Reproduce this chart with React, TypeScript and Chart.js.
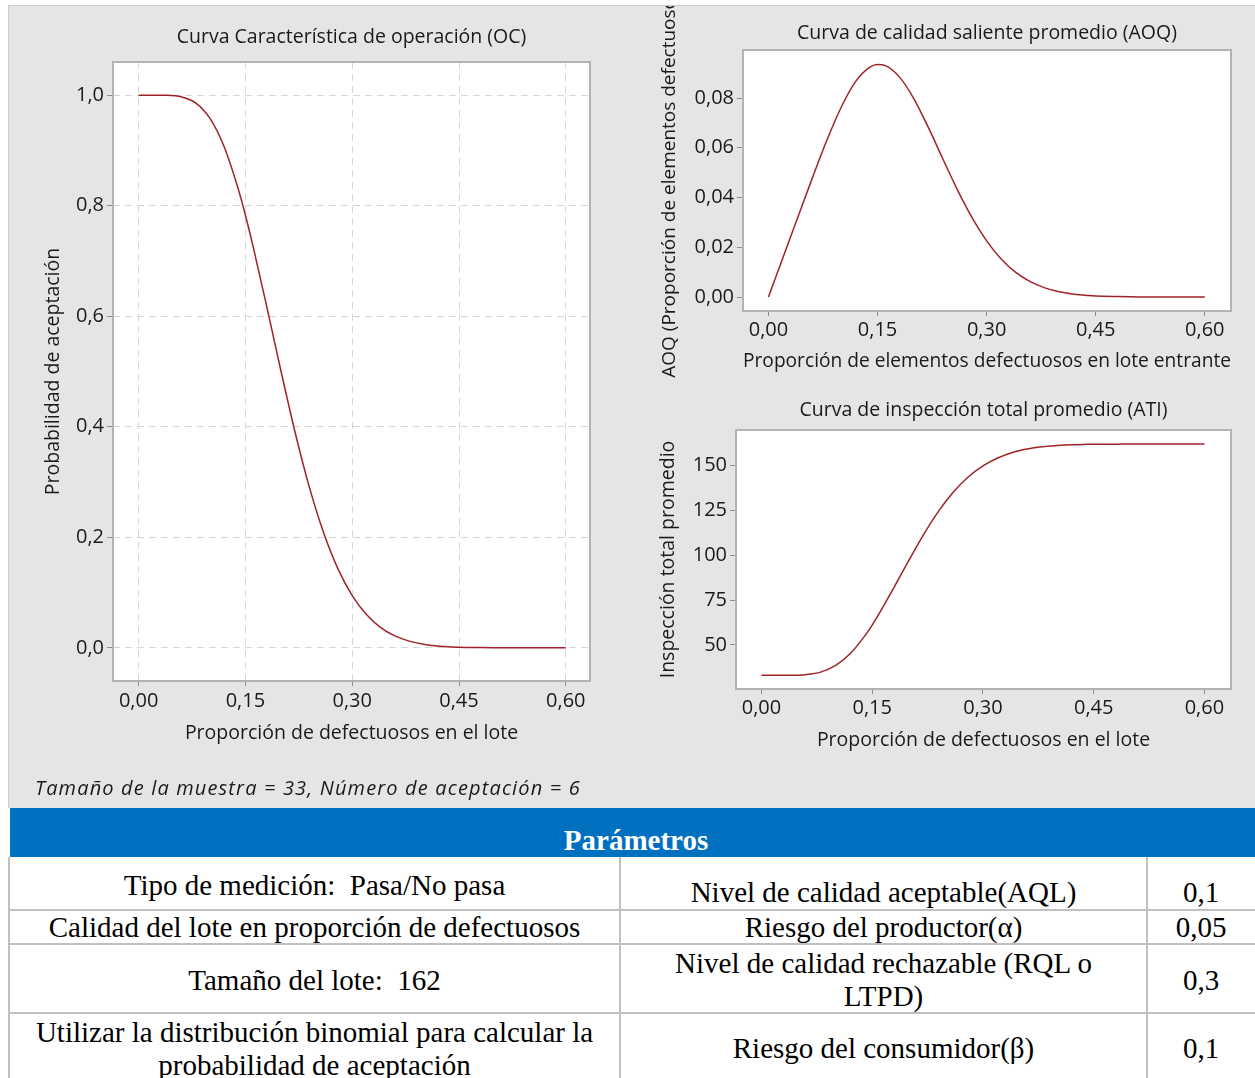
import React, { useEffect, useRef } from "react";
import { Chart, registerables } from "chart.js";

Chart.register(...registerables);

// ---------------- data ----------------
const proportions = [0, 0.02, 0.04, 0.06, 0.08, 0.1, 0.12, 0.14, 0.15, 0.16, 0.18, 0.2, 0.22, 0.24, 0.26, 0.28, 0.3, 0.32, 0.34, 0.36, 0.38, 0.4, 0.42, 0.44, 0.46, 0.48, 0.5, 0.52, 0.54, 0.56, 0.58, 0.6];
const probAccept = [1.0, 1.0, 0.9998, 0.997, 0.9861, 0.9583, 0.907, 0.8297, 0.7828, 0.7304, 0.6172, 0.5005, 0.3888, 0.2899, 0.2078, 0.1429, 0.0945, 0.0601, 0.0367, 0.0216, 0.0122, 0.0066, 0.0034, 0.0017, 0.0008, 0.0004, 0.0002, 0.0001, 0, 0, 0, 0];
const aoqValues = [0, 0.0159, 0.0318, 0.0476, 0.0628, 0.0763, 0.0867, 0.0925, 0.0935, 0.0931, 0.0885, 0.0797, 0.0681, 0.0554, 0.043, 0.0319, 0.0226, 0.0153, 0.0099, 0.0062, 0.0037, 0.0021, 0.0011, 0.0006, 0.0003, 0.0002, 0.0001, 0, 0, 0, 0, 0];
const atiValues = [33.0, 33.0, 33.0, 33.4, 34.8, 38.4, 45.0, 55.0, 61.0, 67.8, 82.4, 97.4, 111.8, 124.6, 135.2, 143.6, 149.8, 154.2, 157.3, 159.2, 160.4, 161.1, 161.6, 161.8, 161.9, 161.9, 162.0, 162.0, 162.0, 162.0, 162.0, 162.0];

const xTickValues = [0, 0.15, 0.3, 0.45, 0.6];
const ocTickValues = [0, 0.2, 0.4, 0.6, 0.8, 1.0];
const aoqTickValues = [0, 0.02, 0.04, 0.06, 0.08];
const atiTickValues = [50, 75, 100, 125, 150];

const ocTitle = "Curva Característica de operación (OC)";
const ocYTitle = "Probabilidad de aceptación";
const ocXTitle = "Proporción de defectuosos en el lote";
const aoqTitle = "Curva de calidad saliente promedio (AOQ)";
const aoqYTitle = "AOQ (Proporción de elementos defectuosos)";
const aoqXTitle = "Proporción de elementos defectuosos en lote entrante";
const atiTitle = "Curva de inspección total promedio (ATI)";
const atiYTitle = "Inspección total promedio";
const atiXTitle = "Proporción de defectuosos en el lote";

const footnote = "Tamaño de la muestra = 33, Número de aceptación = 6";
const tableHeader = "Parámetros";
const paramLeft = [
  ["Tipo de medición:  Pasa/No pasa"],
  ["Calidad del lote en proporción de defectuosos"],
  ["Tamaño del lote:  162"],
  ["Utilizar la distribución binomial para calcular la", "probabilidad de aceptación"],
];
const paramMid = [
  ["Nivel de calidad aceptable(AQL)"],
  ["Riesgo del productor(α)"],
  ["Nivel de calidad rechazable (RQL o", "LTPD)"],
  ["Riesgo del consumidor(β)"],
];
const paramRight = ["0,1", "0,05", "0,3", "0,1"];

// ---------------- styling / layout ----------------
const FONT = "'Open Sans', sans-serif";
const TEXT = "#1a1a1a";
const LINE = "#a0222a";

const plotFrame = {
  id: "plotFrame",
  beforeDraw(chart: any) {
    const { ctx, chartArea: a } = chart;
    ctx.save();
    ctx.fillStyle = "#ffffff";
    ctx.fillRect(a.left, a.top, a.right - a.left, a.bottom - a.top);
    ctx.restore();
  },
  afterDraw(chart: any) {
    const { ctx, chartArea: a } = chart;
    ctx.save();
    ctx.strokeStyle = "#b3b3b3";
    ctx.lineWidth = 2;
    ctx.strokeRect(a.left, a.top, a.right - a.left, a.bottom - a.top);
    ctx.restore();
  },
};

type Spec = {
  left: number; top: number; w: number; h: number;
  pad: { top: number; left: number; right: number; bottom: number };
  title: string; titlePad: { top: number; bottom: number };
  yTitle: string; yTitlePad: number; yTitleSize: number; yWidth: number; yTickPad: number;
  xTitle: string; xTitlePad: number; xHeight: number; xTickPad: number;
  xMin: number; xMax: number; yMin: number; yMax: number;
  values: number[]; yTicks: number[]; yFmt: (v: number) => string; grid: boolean;
};

const fmtX = (v: number) => v.toFixed(2).replace(".", ",");

const OC_SPEC: Spec = {
  left: -1, top: 1, w: 612, h: 770,
  pad: { top: 0, left: 0, right: 30, bottom: 26 },
  title: ocTitle, titlePad: { top: 18.6, bottom: 13.0 },
  yTitle: ocYTitle, yTitlePad: 33.6, yTitleSize: 19.5, yWidth: 105, yTickPad: 3,
  xTitle: ocXTitle, xTitlePad: 5.4, xHeight: 70, xTickPad: 3,
  xMin: -0.036, xMax: 0.634, yMin: -0.06, yMax: 1.06,
  values: probAccept, yTicks: ocTickValues, yFmt: (v) => v.toFixed(1).replace(".", ","), grid: true,
};

const AOQ_SPEC: Spec = {
  left: 621, top: -46, w: 625, h: 420,
  pad: { top: 0, left: 0, right: 24, bottom: 7 },
  title: aoqTitle, titlePad: { top: 61.9, bottom: 4.7 },
  yTitle: aoqYTitle, yTitlePad: 27.8, yTitleSize: 19, yWidth: 113, yTickPad: 3,
  xTitle: aoqXTitle, xTitlePad: 0, xHeight: 62, xTickPad: 2,
  xMin: -0.035, xMax: 0.636, yMin: -0.0056, yMax: 0.0993,
  values: aoqValues, yTicks: aoqTickValues, yFmt: (v) => v.toFixed(2).replace(".", ","), grid: false,
};

const ATI_SPEC: Spec = {
  left: 621, top: 379, w: 625, h: 380,
  pad: { top: 0, left: 0, right: 24, bottom: 13 },
  title: atiTitle, titlePad: { top: 13.6, bottom: 8.0 },
  yTitle: atiYTitle, yTitlePad: 26.7, yTitleSize: 19.5, yWidth: 106, yTickPad: 3,
  xTitle: atiXTitle, xTitlePad: 0, xHeight: 63, xTickPad: 2,
  xMin: -0.0345, xMax: 0.636, yMin: 25.4, yMax: 169.8,
  values: atiValues, yTicks: atiTickValues, yFmt: (v) => String(Math.round(v)), grid: false,
};

function buildConfig(s: Spec): any {
  const font = { family: FONT, size: 19.5, weight: "normal" as const };
  const yTitleFont = { family: FONT, size: s.yTitleSize, weight: "normal" as const };
  const tickFont = { family: FONT, size: 20, weight: "normal" as const };
  return {
    type: "line",
    data: {
      datasets: [
        {
          data: proportions.map((x, i) => ({ x, y: s.values[i] })),
          borderColor: LINE,
          borderWidth: 1.5,
          pointRadius: 0,
          fill: false,
          cubicInterpolationMode: "monotone",
        },
      ],
    },
    options: {
      responsive: false,
      animation: false,
      devicePixelRatio: 1,
      layout: { padding: s.pad },
      plugins: {
        legend: { display: false },
        tooltip: { enabled: false },
        title: {
          display: true,
          text: s.title,
          fullSize: false,
          color: TEXT,
          font,
          padding: s.titlePad,
        },
      },
      scales: {
        x: {
          type: "linear",
          min: s.xMin,
          max: s.xMax,
          afterBuildTicks: (sc: any) => {
            sc.ticks = xTickValues.map((v) => ({ value: v }));
          },
          afterFit: (sc: any) => {
            sc.height = s.xHeight;
          },
          grid: {
            display: true,
            drawOnChartArea: s.grid,
            color: "#d6d6d6",
            lineWidth: 1,
            drawTicks: true,
            tickLength: 5,
            tickColor: "#8c8c8c",
            tickWidth: 1,
          },
          border: { display: false, dash: [7, 5] },
          ticks: {
            padding: s.xTickPad,
            color: TEXT,
            font: tickFont,
            maxRotation: 0,
            autoSkip: false,
            callback: (v: any) => fmtX(Number(v)),
          },
          title: {
            display: true,
            text: s.xTitle,
            color: TEXT,
            font,
            padding: { top: 0, bottom: s.xTitlePad },
          },
        },
        y: {
          type: "linear",
          min: s.yMin,
          max: s.yMax,
          afterBuildTicks: (sc: any) => {
            sc.ticks = s.yTicks.map((v) => ({ value: v }));
          },
          afterFit: (sc: any) => {
            sc.width = s.yWidth;
          },
          grid: {
            display: true,
            drawOnChartArea: s.grid,
            color: "#d6d6d6",
            lineWidth: 1,
            drawTicks: true,
            tickLength: 6,
            tickColor: "#8c8c8c",
            tickWidth: 1,
          },
          border: { display: false, dash: [7, 5] },
          ticks: {
            padding: s.yTickPad,
            color: TEXT,
            font: tickFont,
            autoSkip: false,
            callback: (v: any) => s.yFmt(Number(v)),
          },
          title: {
            display: true,
            text: s.yTitle,
            color: TEXT,
            font: yTitleFont,
            padding: { top: s.yTitlePad, bottom: 0 },
          },
        },
      },
    },
    plugins: [plotFrame],
  };
}

function ChartCanvas({ spec }: { spec: Spec }) {
  const ref = useRef<HTMLCanvasElement>(null);
  useEffect(() => {
    if (!ref.current) return;
    const chart = new Chart(ref.current, buildConfig(spec));
    return () => chart.destroy();
  }, [spec]);
  return (
    <canvas
      ref={ref}
      width={spec.w}
      height={spec.h}
      style={{ position: "absolute", left: spec.left, top: spec.top, width: spec.w, height: spec.h }}
    />
  );
}

// table layout (page coordinates)
const colCenters = [314.5, 883.5, 1201];
const colBaselines = [
  [895, 902, 902],
  [937, 937, 937],
  [990, 973, 990],
  [1042, 1058, 1058],
];
const rowLines = [909, 943, 1012];
const colLines = [8, 619, 1146];
const SERIF = "'Liberation Serif', 'Times New Roman', serif";
const TLINE = 33;
const BASE_OFF = 26.3;

function Cell({ lines, cx, baseline }: { lines: string[]; cx: number; baseline: number }) {
  return (
    <div
      style={{
        position: "absolute",
        left: cx - 320,
        width: 640,
        top: baseline - BASE_OFF,
        textAlign: "center",
        fontFamily: SERIF,
        fontSize: 29,
        lineHeight: `${TLINE}px`,
        color: "#000",
        whiteSpace: "pre",
      }}
    >
      {lines.map((l, i) => (
        <div key={i}>{l}</div>
      ))}
    </div>
  );
}

export default function App() {
  return (
    <div
      style={{
        position: "absolute",
        left: 0,
        top: 0,
        width: 1255,
        height: 1078,
        overflow: "hidden",
        background: "#ffffff",
      }}
    >
      {/* gray chart panel */}
      <div
        style={{
          position: "absolute",
          left: 8,
          top: 5,
          width: 1260,
          height: 803,
          boxSizing: "border-box",
          borderLeft: "1px solid #cccccc",
          borderTop: "1px solid #cccccc",
          background: "#e5e5e5",
          overflow: "hidden",
        }}
      >
        <ChartCanvas spec={OC_SPEC} />
        <ChartCanvas spec={AOQ_SPEC} />
        <ChartCanvas spec={ATI_SPEC} />
      </div>
      <div
        style={{
          position: "absolute",
          left: 35,
          top: 775,
          fontFamily: FONT,
          fontStyle: "italic",
          fontSize: 20,
          letterSpacing: "1.15px",
          lineHeight: "26px",
          color: TEXT,
          whiteSpace: "pre",
        }}
      >
        {footnote}
      </div>

      {/* parameters table */}
      <div
        style={{
          position: "absolute",
          left: 10,
          top: 808,
          width: 1252,
          height: 49,
          background: "#0070c0",
        }}
      />
      <div
        style={{
          position: "absolute",
          left: 10,
          width: 1252,
          top: 850.7 - BASE_OFF,
          textAlign: "center",
          fontFamily: SERIF,
          fontWeight: "bold",
          fontSize: 29,
          lineHeight: `${TLINE}px`,
          color: "#ffffff",
        }}
      >
        {tableHeader}
      </div>
      {rowLines.map((y, i) => (
        <div key={"r" + i} style={{ position: "absolute", left: 8, top: y, width: 1260, height: 2, background: "#c0c0c0" }} />
      ))}
      {colLines.map((x, i) => (
        <div key={"c" + i} style={{ position: "absolute", left: x, top: 857, width: 2, height: 230, background: "#c0c0c0" }} />
      ))}
      {paramLeft.map((lines, r) => (
        <Cell key={"L" + r} lines={lines} cx={colCenters[0]} baseline={colBaselines[r][0]} />
      ))}
      {paramMid.map((lines, r) => (
        <Cell key={"M" + r} lines={lines} cx={colCenters[1]} baseline={colBaselines[r][1]} />
      ))}
      {paramRight.map((t, r) => (
        <Cell key={"R" + r} lines={[t]} cx={colCenters[2]} baseline={colBaselines[r][2]} />
      ))}
    </div>
  );
}
